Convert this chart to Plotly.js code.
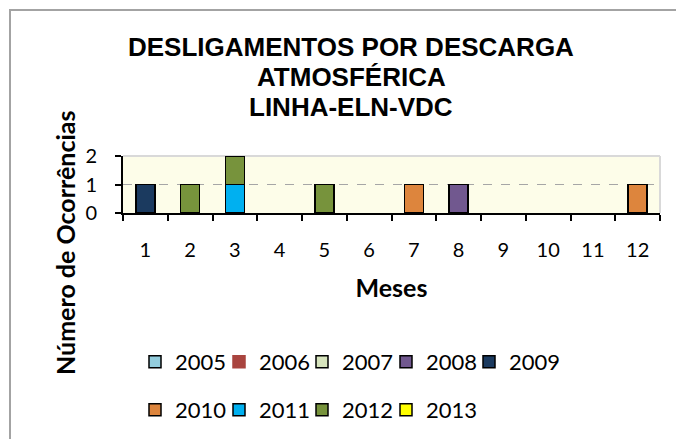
<!DOCTYPE html>
<html>
<head>
<meta charset="utf-8">
<script src="https://cdn.plot.ly/plotly-3.0.1.min.js"></script>
<style>
  html, body { margin: 0; padding: 0; background: #fff; }
  #wrap { position: relative; width: 676px; height: 439px; overflow: hidden; }
  #frame { position: absolute; left: 9px; top: 9px; width: 700px; height: 460px; border-left: 2px solid #a3a3a3; border-top: 2px solid #a3a3a3; pointer-events: none; }
  #chart { position: absolute; left: 0; top: 0; width: 676px; height: 439px; }
</style>
</head>
<body>
<div id="wrap">
  <div id="chart"></div>
  <div id="frame"></div>
</div>
<script>
const months = ['1','2','3','4','5','6','7','8','9','10','11','12'];
const years = ['2005','2006','2007','2008','2009','2010','2011','2012','2013'];
const v2005 = [0,0,0,0,0,0,0,0,0,0,0,0];
const v2006 = [0,0,0,0,0,0,0,0,0,0,0,0];
const v2007 = [0,0,0,0,0,0,0,0,0,0,0,0];
const v2008 = [0,0,0,0,0,0,0,1,0,0,0,0];
const v2009 = [1,0,0,0,0,0,0,0,0,0,0,0];
const v2010 = [0,0,0,0,0,0,1,0,0,0,0,1];
const v2011 = [0,0,1,0,0,0,0,0,0,0,0,0];
const v2012 = [0,1,1,0,1,0,0,0,0,0,0,0];
const v2013 = [0,0,0,0,0,0,0,0,0,0,0,0];
const seriesValues = [v2005, v2006, v2007, v2008, v2009, v2010, v2011, v2012, v2013];
const colors = ['#93CDDD','#A9443F','#D7E4BD','#71588F','#1B3A5F','#DD853D','#00B0F0','#77933C','#FFFF00'];
const titleLines = ['DESLIGAMENTOS POR DESCARGA','ATMOSFÉRICA','LINHA-ELN-VDC'];
const yTicks = [0,1,2];

const legendId = i => (i === 0 ? 'legend' : 'legend' + (i + 1));

const traces = years.map((y, i) => ({
  type: 'bar',
  name: y,
  x: months,
  // zero counts are not drawn as bars (avoids zero-height outlines)
  y: seriesValues[i].map(v => (v === 0 ? null : v)),
  marker: { color: colors[i], line: { color: i === 1 ? colors[i] : '#000', width: 1.5 } },
  legend: legendId(i),
  hoverinfo: 'skip'
}));

const tickFont = { family: 'Lato, sans-serif', size: 20, color: '#000' };
const legFont = { family: 'Lato, sans-serif', size: 22, color: '#000' };

const titleY = [2.917, 2.386, 1.851];
const annotations = titleLines.map((t, i) => ({
  text: '<b>' + t + '</b>', xref: 'paper', yref: 'paper', x: 0.4255, y: titleY[i],
  xanchor: 'center', yanchor: 'middle', showarrow: false,
  font: { family: '"Liberation Sans", Arial, sans-serif', size: 26, color: '#000' }
}));
annotations.push({
  text: '<b>Número de Ocorrências</b>', xref: 'paper', yref: 'paper', x: -0.108, y: -0.526,
  xanchor: 'center', yanchor: 'middle', textangle: -90, showarrow: false,
  font: { family: 'Lato, sans-serif', size: 25, color: '#000' }
});

const layout = {
  width: 676, height: 439,
  margin: { l: 123, r: 16, t: 156, b: 226 },
  paper_bgcolor: '#fff',
  plot_bgcolor: '#FDFDE9',
  barmode: 'stack',
  bargap: 0.58,
  showlegend: true,
  xaxis: {
    type: 'category', categoryorder: 'array', categoryarray: months,
    tickson: 'boundaries', ticks: 'outside', ticklen: 6, tickwidth: 2, tickcolor: '#000',
    showline: true, linecolor: '#000', linewidth: 2,
    showgrid: false, zeroline: false,
    tickfont: tickFont, ticklabelstandoff: 18,
    title: { text: '<b>Meses</b>', font: { family: 'Lato, sans-serif', size: 25, color: '#000' }, standoff: 19 },
    automargin: false, fixedrange: true
  },
  yaxis: {
    range: [0, 2], tickvals: yTicks, ticktext: yTicks.map(String),
    ticks: 'outside', ticklen: 6, tickwidth: 2, tickcolor: '#000',
    showline: true, linecolor: '#000', linewidth: 2,
    showgrid: true, gridcolor: '#A6A6A6', gridwidth: 1.5, griddash: 'dash',
    zeroline: false,
    tickfont: tickFont, ticklabelstandoff: 14,
    automargin: false, fixedrange: true
  },
  shapes: [
    { type: 'line', xref: 'paper', yref: 'paper', x0: 0, x1: 1, y0: 1, y1: 1, line: { color: '#D9D9D9', width: 2 }, layer: 'below' },
    { type: 'line', xref: 'paper', yref: 'paper', x0: 1, x1: 1, y0: 0, y1: 1, line: { color: '#D9D9D9', width: 2 }, layer: 'below' }
  ],
  annotations: annotations
};

// legend entry placement: 5 entries in the first row, 4 in the second
const legendStartX = [135, 219, 302, 386, 469];
const legendRowY = [362, 410];
years.forEach((y, i) => {
  const row = i < 5 ? 0 : 1;
  const col = i < 5 ? i : i - 5;
  layout[legendId(i)] = {
    orientation: 'h', xref: 'container', yref: 'container',
    x: legendStartX[col] / 676, xanchor: 'left',
    y: 1 - legendRowY[row] / 439, yanchor: 'middle',
    font: legFont, bgcolor: 'rgba(0,0,0,0)'
  };
});

Plotly.newPlot('chart', traces, layout, { displayModeBar: false, staticPlot: true });
</script>
</body>
</html>
